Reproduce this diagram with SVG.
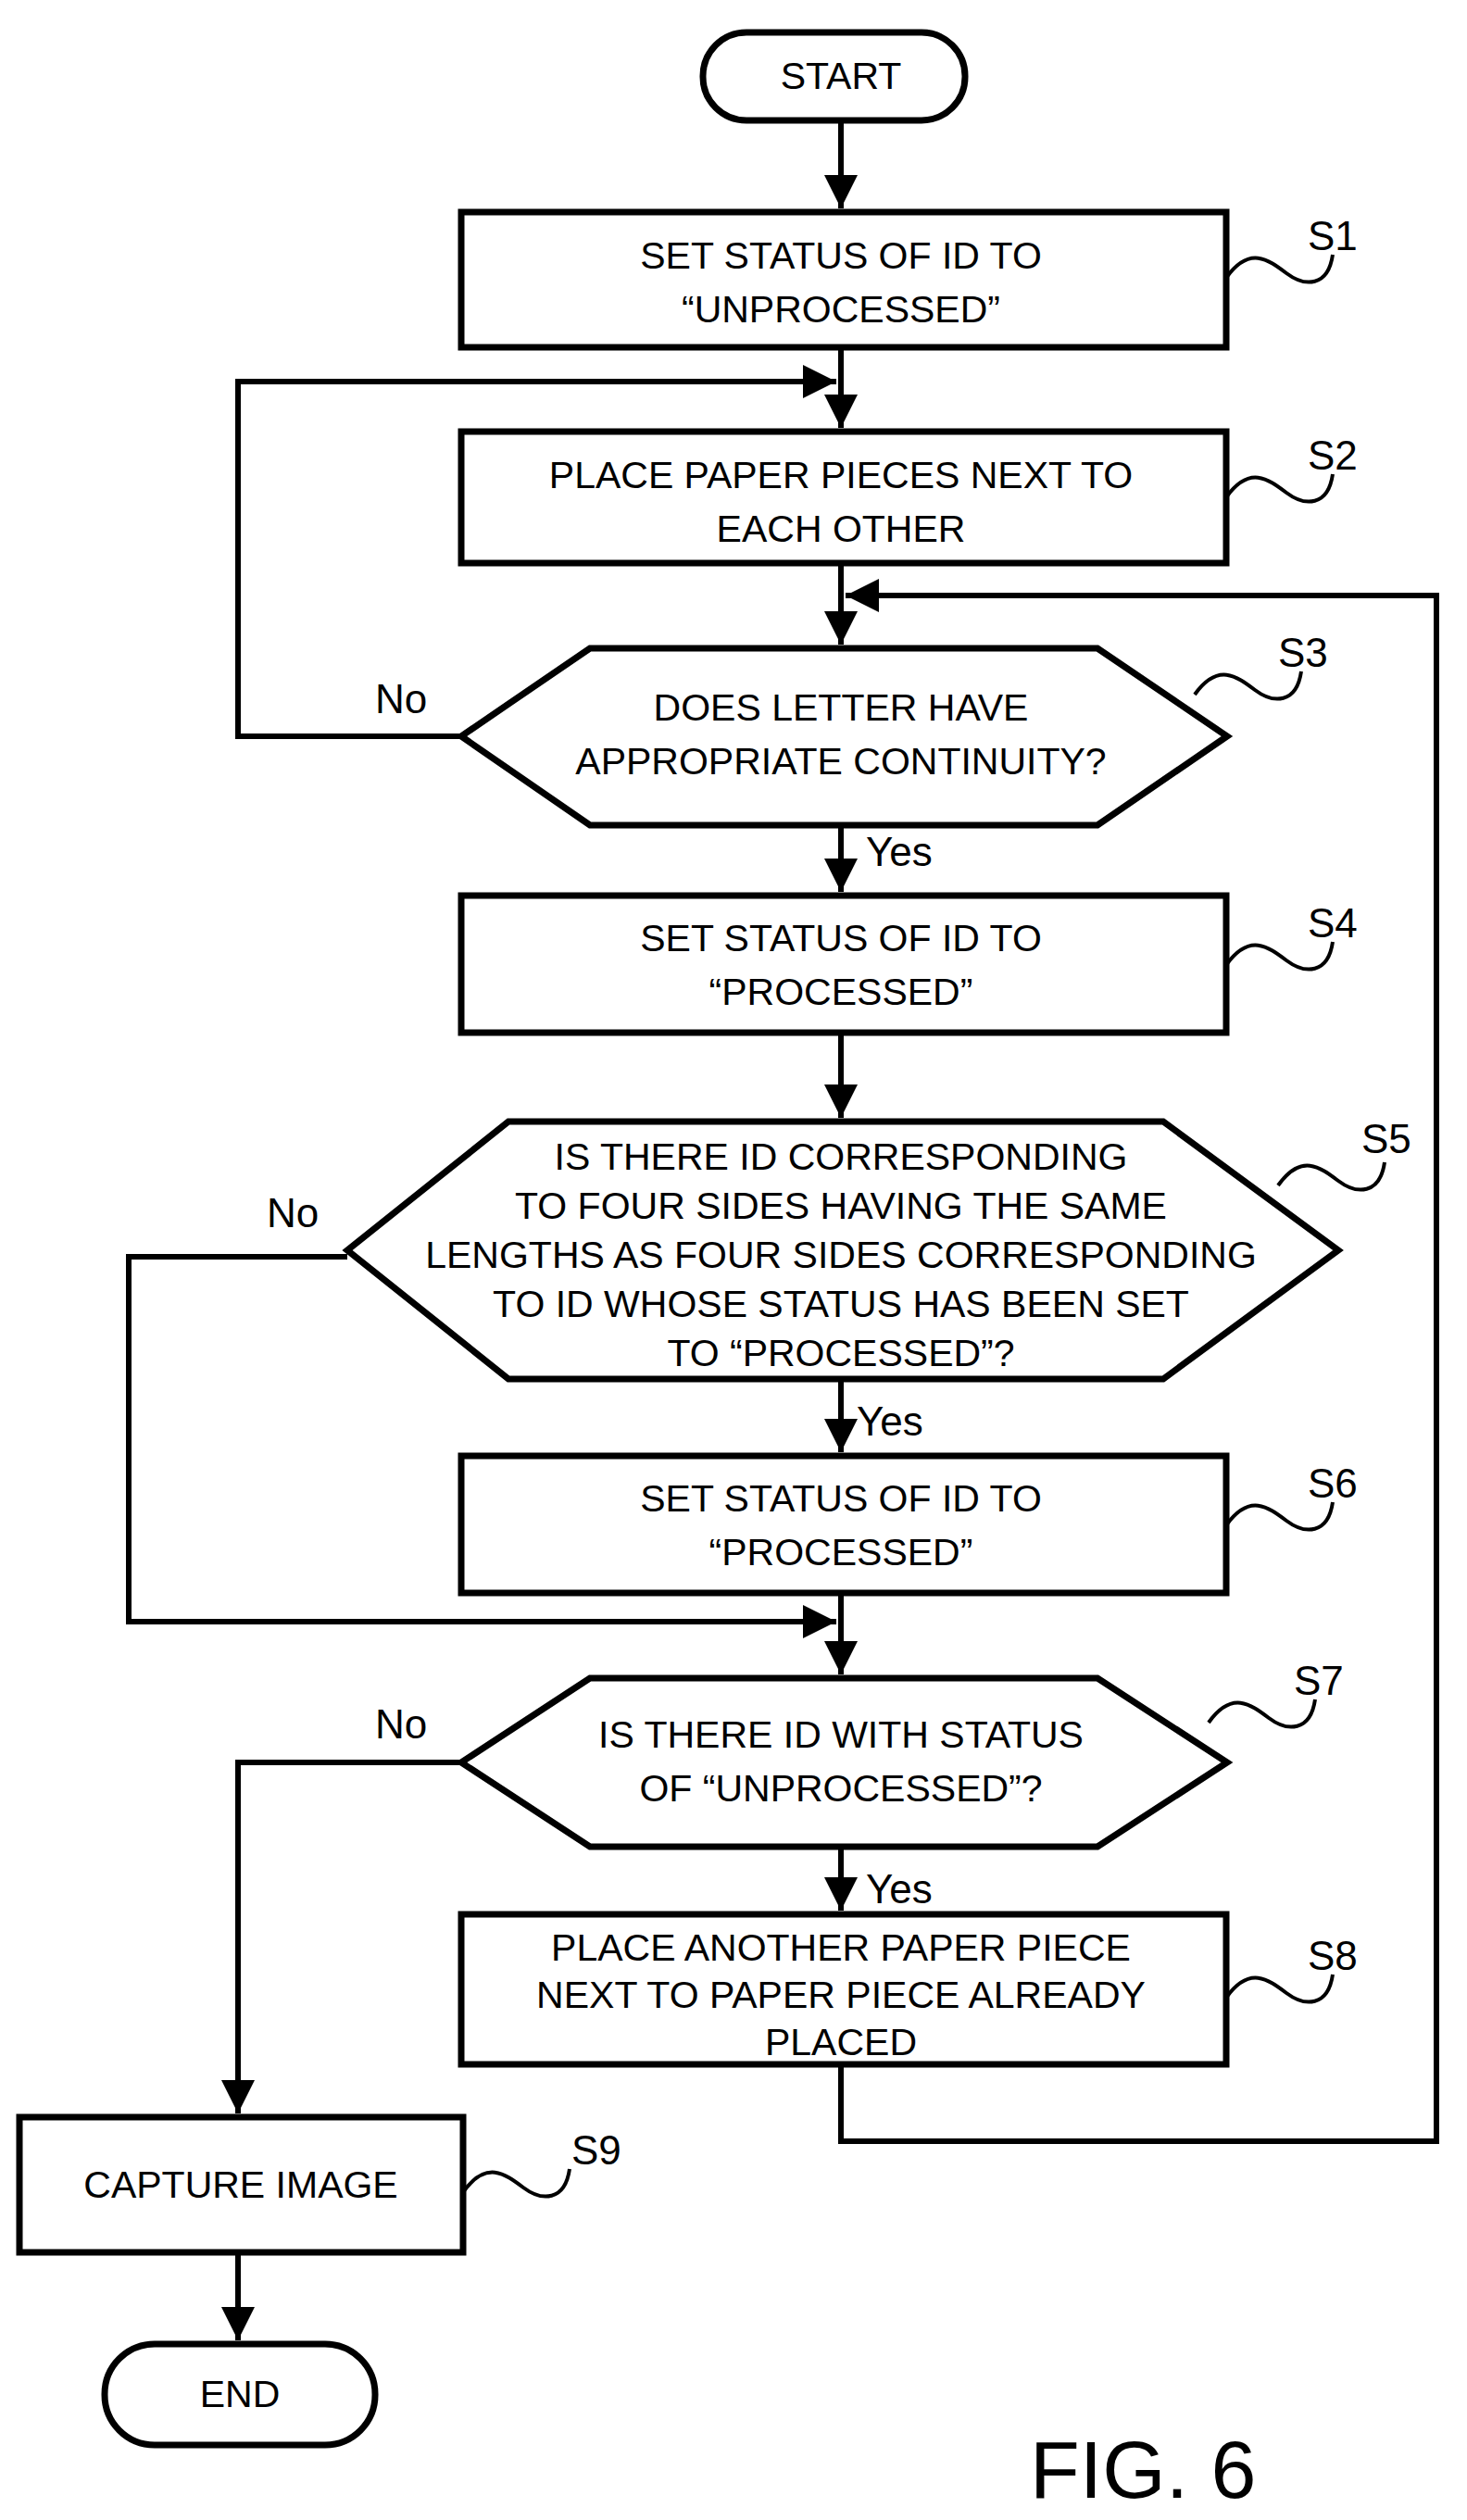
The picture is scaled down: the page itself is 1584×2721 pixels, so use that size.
<svg xmlns="http://www.w3.org/2000/svg" width="1584" height="2721" viewBox="0 0 1584 2721">
<style>
.s{fill:#fff;stroke:#000;stroke-width:7}
.t{font-family:"Liberation Sans",Arial,sans-serif;font-size:41px;text-anchor:middle;fill:#000}
.l{font-family:"Liberation Sans",Arial,sans-serif;font-size:44px;fill:#000}
.c{fill:none;stroke:#000;stroke-width:6}
.q{fill:none;stroke:#000;stroke-width:4}
</style>
<defs><marker id="h" viewBox="0 0 10 10" refX="10" refY="5" markerWidth="6" markerHeight="6" orient="auto"><path d="M0,0L10,5L0,10z"/></marker></defs>
<rect width="1584" height="2721" fill="#fff"/>
<g id="connectors" class="c">
<path d="M908,130V225" marker-end="url(#h)"/>
<path d="M908,375V462" marker-end="url(#h)"/>
<path d="M498,795H257V412H903" marker-end="url(#h)"/>
<path d="M908,608V696" marker-end="url(#h)"/>
<path d="M908,2229V2312H1551V643H913" marker-end="url(#h)"/>
<path d="M908,891V963" marker-end="url(#h)"/>
<path d="M908,1115V1207" marker-end="url(#h)"/>
<path d="M908,1489V1568" marker-end="url(#h)"/>
<path d="M375,1357H139V1751H903" marker-end="url(#h)"/>
<path d="M908,1720V1808" marker-end="url(#h)"/>
<path d="M908,1994V2063" marker-end="url(#h)"/>
<path d="M498,1903H257V2282" marker-end="url(#h)"/>
<path d="M257,2432V2527" marker-end="url(#h)"/>
</g>
<g id="start"><rect class="s" x="759" y="35" width="283" height="95" rx="47"/><text class="t" x="908" y="96">START</text></g>
<g id="S1"><rect class="s" x="498" y="229" width="826" height="146"/><text class="t" x="908" y="290">SET STATUS OF ID TO</text><text class="t" x="908" y="348">“UNPROCESSED”</text>
<path class="q" d="M1324,300c25,-35 45,-20 65,-5s45,15 50,-20"/><text class="l" x="1412" y="270">S1</text></g>
<g id="S2"><rect class="s" x="498" y="466" width="826" height="142"/><text class="t" x="908" y="527">PLACE PAPER PIECES NEXT TO</text><text class="t" x="908" y="585">EACH OTHER</text>
<path class="q" d="M1324,537c25,-35 45,-20 65,-5s45,15 50,-20"/><text class="l" x="1412" y="507">S2</text></g>
<g id="S3"><path class="s" d="M637,700H1185L1325,795L1185,891H637L498,795Z"/><text class="t" x="908" y="778">DOES LETTER HAVE</text><text class="t" x="908" y="836">APPROPRIATE CONTINUITY?</text>
<path class="q" d="M1290,750c25,-35 45,-20 65,-5s45,15 50,-20"/><text class="l" x="1380" y="720">S3</text>
<text class="l" x="405" y="770">No</text><text class="l" x="935" y="935">Yes</text></g>
<g id="S4"><rect class="s" x="498" y="967" width="826" height="148"/><text class="t" x="908" y="1027">SET STATUS OF ID TO</text><text class="t" x="908" y="1085">“PROCESSED”</text>
<path class="q" d="M1324,1042c25,-35 45,-20 65,-5s45,15 50,-20"/><text class="l" x="1412" y="1012">S4</text></g>
<g id="S5"><path class="s" d="M549,1211H1256L1445,1350L1256,1489H549L375,1350Z"/>
<text class="t" x="908" y="1263">IS THERE ID CORRESPONDING</text><text class="t" x="908" y="1316">TO FOUR SIDES HAVING THE SAME</text><text class="t" x="908" y="1369">LENGTHS AS FOUR SIDES CORRESPONDING</text><text class="t" x="908" y="1422">TO ID WHOSE STATUS HAS BEEN SET</text><text class="t" x="908" y="1475">TO “PROCESSED”?</text>
<path class="q" d="M1380,1280c25,-35 45,-20 65,-5s45,15 50,-20"/><text class="l" x="1470" y="1245">S5</text>
<text class="l" x="288" y="1325">No</text><text class="l" x="925" y="1550">Yes</text></g>
<g id="S6"><rect class="s" x="498" y="1572" width="826" height="148"/><text class="t" x="908" y="1632">SET STATUS OF ID TO</text><text class="t" x="908" y="1690">“PROCESSED”</text>
<path class="q" d="M1324,1647c25,-35 45,-20 65,-5s45,15 50,-20"/><text class="l" x="1412" y="1617">S6</text></g>
<g id="S7"><path class="s" d="M637,1812H1185L1325,1903L1185,1994H637L498,1903Z"/><text class="t" x="908" y="1887">IS THERE ID WITH STATUS</text><text class="t" x="908" y="1945">OF “UNPROCESSED”?</text>
<path class="q" d="M1305,1860c25,-35 45,-20 65,-5s45,15 50,-20"/><text class="l" x="1397" y="1830">S7</text>
<text class="l" x="405" y="1877">No</text><text class="l" x="935" y="2055">Yes</text></g>
<g id="S8"><rect class="s" x="498" y="2067" width="826" height="162"/><text class="t" x="908" y="2117">PLACE ANOTHER PAPER PIECE</text><text class="t" x="908" y="2168">NEXT TO PAPER PIECE ALREADY</text><text class="t" x="908" y="2219">PLACED</text>
<path class="q" d="M1324,2157c25,-35 45,-20 65,-5s45,15 50,-20"/><text class="l" x="1412" y="2127">S8</text></g>
<g id="S9"><rect class="s" x="21" y="2286" width="479" height="146"/><text class="t" x="260" y="2373">CAPTURE IMAGE</text>
<path class="q" d="M500,2367c25,-35 45,-20 65,-5s45,15 50,-20"/><text class="l" x="617" y="2337">S9</text></g>
<g id="end"><rect class="s" x="113" y="2531" width="292" height="109" rx="54"/><text class="t" x="259" y="2599">END</text></g>
<text x="1112" y="2697" style="font-family:'Liberation Sans',Arial,sans-serif;font-size:88px">FIG. 6</text>
</svg>
